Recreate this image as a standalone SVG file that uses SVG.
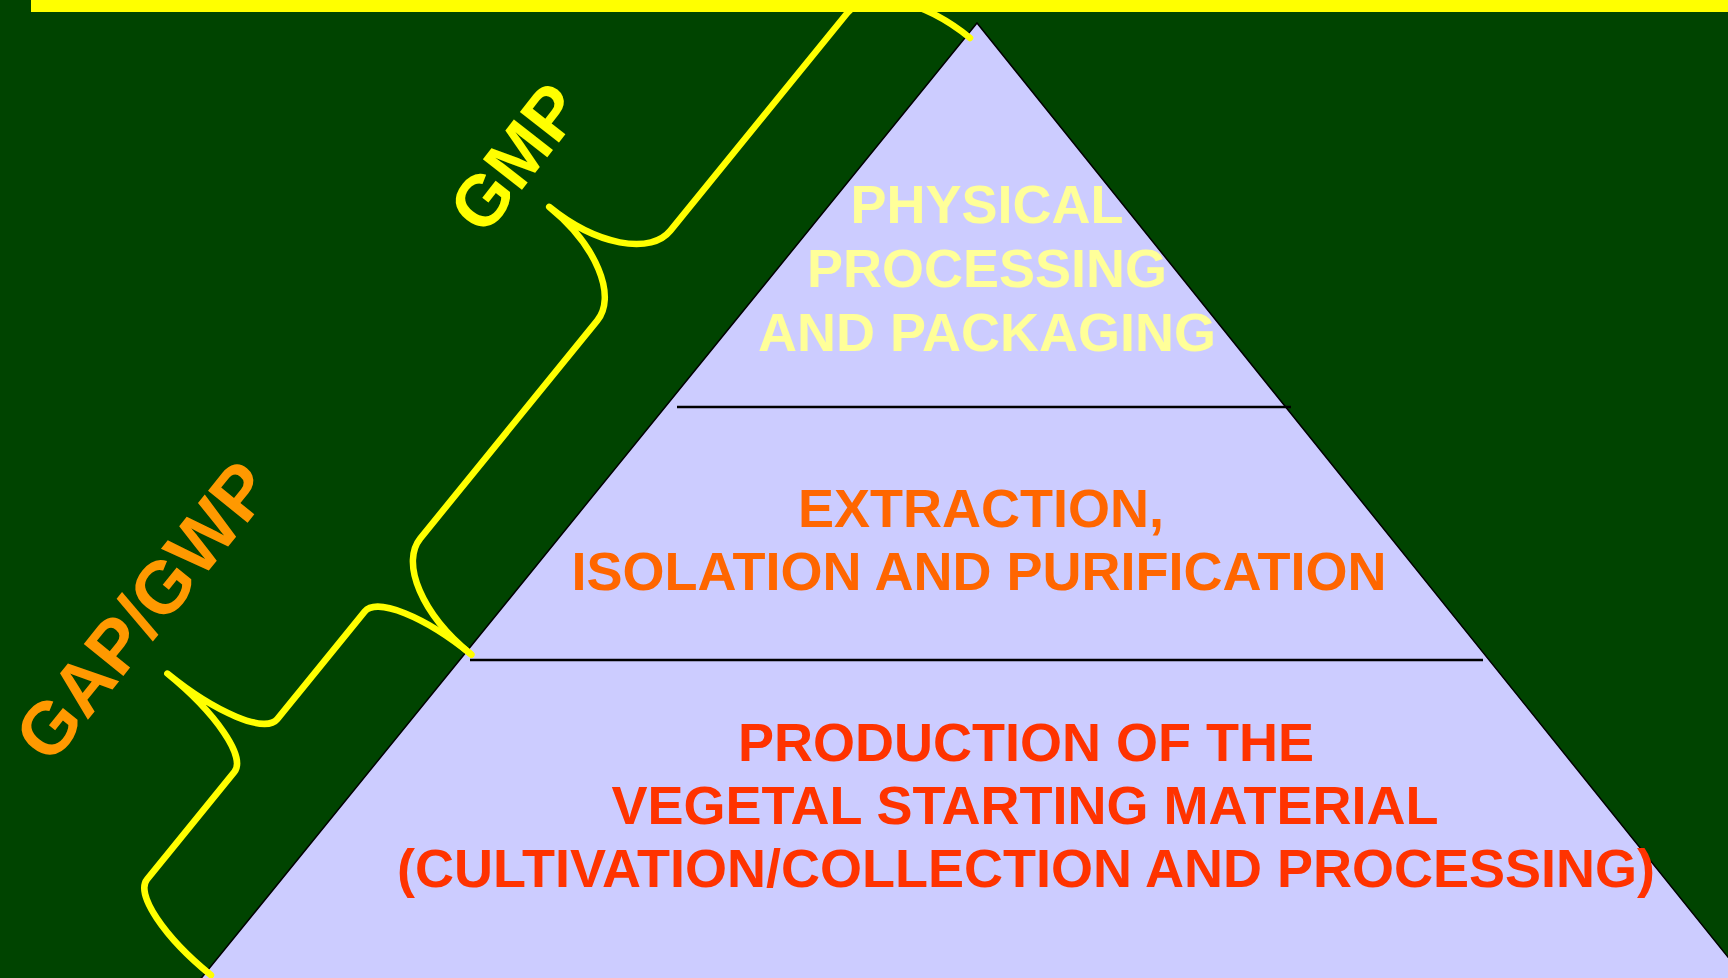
<svg xmlns="http://www.w3.org/2000/svg" width="1728" height="978" viewBox="0 0 1728 978">
  <style>
    .tier-text { font-family: "Liberation Sans", Arial, sans-serif; font-weight: bold; font-size: 54px; text-anchor: middle; }
    .side-label { font-family: "Liberation Sans", Arial, sans-serif; font-weight: bold; text-anchor: middle; }
    .divider { stroke: #000000; stroke-width: 2.5; }
    .brace { fill: none; stroke: #FFFF00; stroke-width: 6.5; stroke-linecap: round; stroke-linejoin: round; }
  </style>
  <rect id="background" x="0" y="0" width="1728" height="978" fill="#004400"/>

  <g id="pyramid">
    <polygon points="977,23 1756,992 190,992" fill="#CCCCFF" stroke="#000000" stroke-width="1.5"/>
    <line class="divider" x1="677" y1="407" x2="1291" y2="407"/>
    <line class="divider" x1="470" y1="660" x2="1483" y2="660"/>
  </g>

  <g id="tier-top">
    <text class="tier-text" fill="#FFFF99" x="987" y="223">PHYSICAL</text>
    <text class="tier-text" fill="#FFFF99" x="987" y="287">PROCESSING</text>
    <text class="tier-text" fill="#FFFF99" x="987" y="351">AND PACKAGING</text>
  </g>

  <g id="tier-middle">
    <text class="tier-text" fill="#FF6600" x="981" y="527">EXTRACTION,</text>
    <text class="tier-text" fill="#FF6600" x="979" y="590">ISOLATION AND PURIFICATION</text>
  </g>

  <g id="tier-bottom">
    <text class="tier-text" fill="#FF3300" x="1026" y="761">PRODUCTION OF THE</text>
    <text class="tier-text" fill="#FF3300" x="1025" y="824">VEGETAL STARTING MATERIAL</text>
    <text class="tier-text" fill="#FF3300" x="1026" y="887">(CULTIVATION/COLLECTION AND PROCESSING)</text>
  </g>

  <g id="connectors" transform="translate(977,23) rotate(129.1)">
    <path id="brace-gmp" class="brace" d="M 16,-4 A 58 111 0 0 0 74 107 L 354.5 107 A 58 109 0 0 1 412.5 216 A 58 109 0 0 1 470.5 107 L 751 107 A 58 111 0 0 0 809 -4"/>
    <path id="brace-gap" class="brace" d="M 809,-6 A 34 110 0 0 0 843 104 L 981.5 104 A 34 114 0 0 1 1015.5 218 A 34 114 0 0 1 1049.5 104 L 1188 104 A 34 110 0 0 0 1222 -6"/>
  </g>

  <rect id="top-bar" x="31" y="0" width="1697" height="12" fill="#FFFF00"/>

  <g id="label-gmp">
    <text class="side-label" fill="#FFFF00" font-size="72" transform="translate(535,173) rotate(-52)">GMP</text>
  </g>
  <g id="label-gap-gwp">
    <text class="side-label" fill="#FF9900" font-size="74" transform="translate(163,627) rotate(-51)">GAP/GWP</text>
  </g>
</svg>
